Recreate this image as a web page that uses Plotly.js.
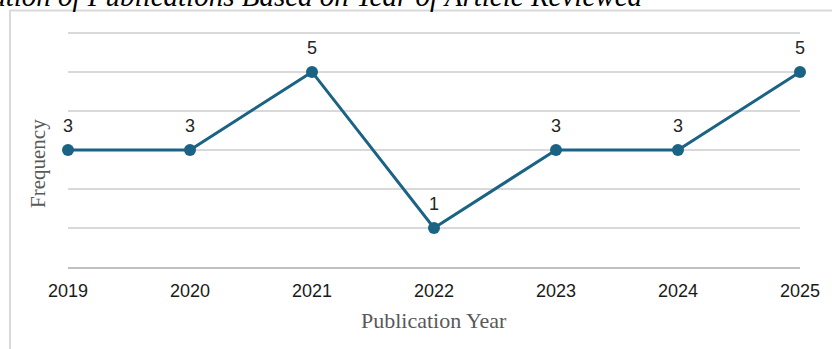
<!DOCTYPE html>
<html>
<head>
<meta charset="utf-8">
<script src="https://cdn.plot.ly/plotly-3.0.1.min.js"></script>
<style>html,body{margin:0;padding:0;background:#fff;}#chart{width:832px;height:349px;}</style>
</head>
<body>
<div id="chart"></div>
<script>
const years = [2019, 2020, 2021, 2022, 2023, 2024, 2025];
const frequency = [3, 3, 5, 1, 3, 3, 5];
const tickLabels = ['2019', '2020', '2021', '2022', '2023', '2024', '2025'];
const chartTitle = 'Distribution of Publications Based on Year of Article Reviewed';
const xTitle = 'Publication Year';
const yTitle = 'Frequency';

const lineColor = '#1b6384';

const trace = {
  x: years,
  y: frequency,
  type: 'scatter',
  mode: 'lines+markers',
  line: {color: lineColor, width: 3},
  marker: {color: lineColor, size: 12},
  hoverinfo: 'skip',
  cliponaxis: false
};

const annotations = years.map((yr, i) => ({
  x: yr, y: frequency[i], xref: 'x', yref: 'y',
  text: String(frequency[i]), showarrow: false,
  yshift: 24, font: {family: 'Liberation Sans, Arial, sans-serif', size: 18, color: '#262626'}
}));

annotations.push({
  xref: 'paper', yref: 'paper', x: 0.5, y: -0.2250, xanchor: 'center', yanchor: 'middle',
  text: xTitle, showarrow: false,
  font: {family: 'Liberation Serif, Times New Roman, serif', size: 22, color: '#595959'}
});
annotations.push({
  xref: 'paper', yref: 'paper', x: -0.0403, y: 0.4351, xanchor: 'center', yanchor: 'middle',
  text: yTitle, showarrow: false, textangle: -90,
  font: {family: 'Liberation Serif, Times New Roman, serif', size: 21, color: '#595959'}
});
annotations.push({
  xref: 'paper', yref: 'paper', x: 0.7883, y: 1.0635, xanchor: 'right', yanchor: 'bottom',
  text: '<i>' + chartTitle + '</i>', showarrow: false,
  font: {family: 'Liberation Serif, Times New Roman, serif', size: 29, color: '#000000'}
});

const layout = {
  width: 832, height: 349,
  margin: {l: 68, r: 32, t: 29.1, b: 82},
  paper_bgcolor: '#ffffff', plot_bgcolor: '#ffffff',
  showlegend: false,
  xaxis: {
    range: [2019, 2025], tickvals: years, ticktext: tickLabels,
    showgrid: false, zeroline: false,
    showline: true, linecolor: '#bfbfbf', linewidth: 1.5,
    ticks: 'outside', ticklen: 7, tickcolor: 'rgba(0,0,0,0)',
    tickfont: {family: 'Liberation Sans, Arial, sans-serif', size: 18, color: '#1a1a1a'},
    fixedrange: true
  },
  yaxis: {
    range: [0, 6.1], tickvals: [0, 1, 2, 3, 4, 5, 6], showticklabels: false,
    showgrid: true, gridcolor: '#d9d9d9', gridwidth: 1.5,
    zeroline: false, showline: false, fixedrange: true
  },
  shapes: [{
    type: 'rect', xref: 'paper', yref: 'paper',
    x0: -0.0792, x1: 1.2, y0: -0.6, y1: 1.0782,
    line: {color: '#d9d9d9', width: 2}, layer: 'below'
  }],
  annotations: annotations
};

Plotly.newPlot('chart', [trace], layout, {displayModeBar: false, staticPlot: true});
</script>
</body>
</html>
